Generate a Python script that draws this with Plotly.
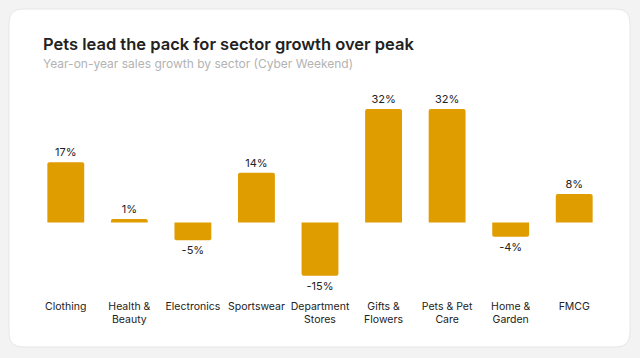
import plotly.graph_objects as go

categories = ["Clothing", "Health &<br>Beauty", "Electronics", "Sportswear", "Department<br>Stores",
              "Gifts &<br>Flowers", "Pets & Pet<br>Care", "Home &<br>Garden", "FMCG"]
growth = [17, 1, -5, 14, -15, 32, 32, -4, 8]
labels = [f"{v}%" for v in growth]

W, H = 640, 358
L, R, T, B = 34, 34, 100, 66
pw, ph = W - L - R, H - T - B

def px(x):
    return (x - L) / pw

def py(y):
    return (H - B - y) / ph

fig = go.Figure(go.Bar(
    x=list(range(len(categories))), y=growth, text=labels, textposition="outside",
    marker=dict(color="#E09D00", line=dict(width=0)),
    textfont=dict(family="Inter", size=11, color="#222222"),
    cliponaxis=False, hoverinfo="skip",
))

# card with rounded corners
x0, x1, y0, y1, r = 9, 630, 9, 347, 14
rx, ry = r / pw, r / ph
X0, X1, Y0, Y1 = px(x0), px(x1), py(y0), py(y1)
path = (f"M {X0+rx},{Y0} L {X1-rx},{Y0} Q {X1},{Y0} {X1},{Y0-ry} "
        f"L {X1},{Y1+ry} Q {X1},{Y1} {X1-rx},{Y1} L {X0+rx},{Y1} "
        f"Q {X0},{Y1} {X0},{Y1+ry} L {X0},{Y0-ry} Q {X0},{Y0} {X0+rx},{Y0} Z")
fig.add_shape(type="path", path=path, xref="paper", yref="paper", layer="below",
              fillcolor="#ffffff", line=dict(color="#e6e6e6", width=1))

fig.add_annotation(text="Pets lead the pack for sector growth over peak", xref="paper", yref="paper",
                   x=px(41), y=py(44), xanchor="left", yanchor="middle", showarrow=False,
                   font=dict(family="Inter", size=16.5, color="#222222", weight=600))
fig.add_annotation(text="Year-on-year sales growth by sector (Cyber Weekend)", xref="paper", yref="paper",
                   x=px(41), y=py(63), xanchor="left", yanchor="middle", showarrow=False,
                   font=dict(family="Inter", size=12, color="#b3b3b3"))

zero_y = 222.5
scale = 3.55
ymax = (zero_y - T) / scale
ymin = -((H - B) - zero_y) / scale

fig.update_layout(
    width=W, height=H, margin=dict(l=L, r=R, t=T, b=B),
    paper_bgcolor="#f3f3f3", plot_bgcolor="rgba(0,0,0,0)",
    bargap=0.42, barcornerradius=2, showlegend=False,
    xaxis=dict(tickmode="array", tickvals=list(range(len(categories))), ticktext=categories,
               range=[-0.5, len(categories) - 0.5], showgrid=False, zeroline=False, showline=False,
               ticks="", ticklabelstandoff=6, tickfont=dict(family="Inter", size=10.5, color="#222222")),
    yaxis=dict(range=[ymin, ymax], visible=False, showgrid=False, zeroline=False),
)

fig.write_html("out.html", config={"displayModeBar": False},
               post_script="document.body.style.margin='0';document.body.style.background='#f3f3f3';")
